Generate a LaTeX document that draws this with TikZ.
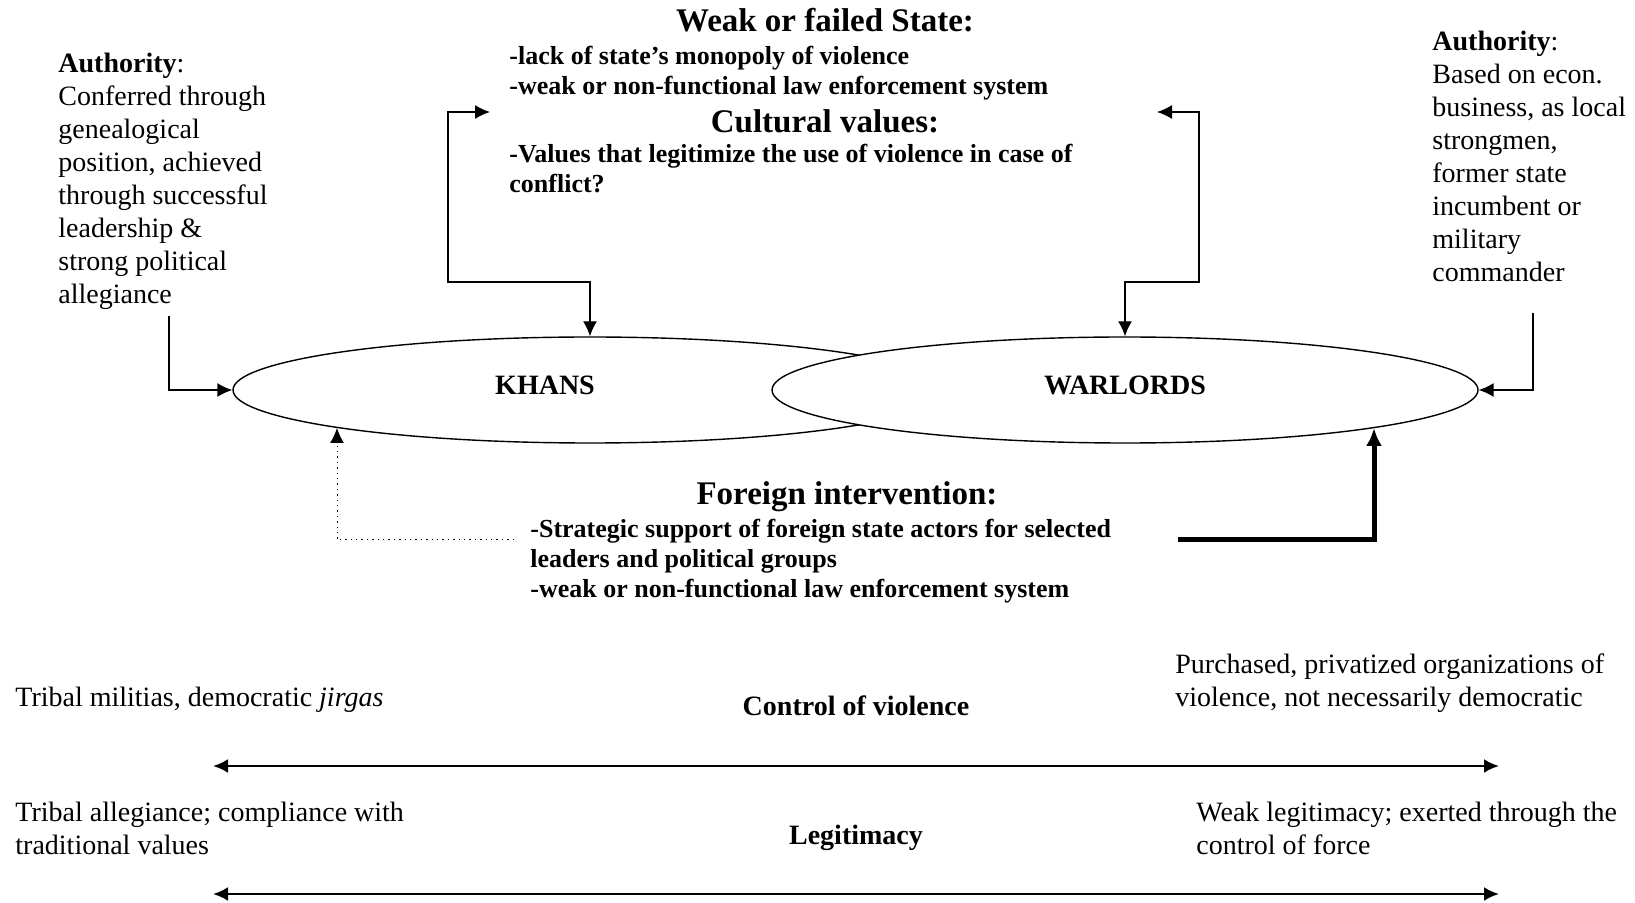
\documentclass[tikz,border=0pt]{standalone}
\usepackage{fontspec}
\setmainfont{Liberation Serif}
\usetikzlibrary{arrows.meta,shapes.geometric,positioning,calc}
\tikzstyle{txt} = [inner sep=0pt, align=left, font=\fontsize{14}{16.5}\selectfont]
\tikzstyle{bul} = [inner sep=0pt, align=left, font=\fontsize{13}{15}\selectfont\bfseries]
\tikzstyle{head} = [inner sep=0pt, font=\fontsize{16.5}{19}\selectfont\bfseries]
\tikzstyle{lbl} = [inner sep=0pt, font=\fontsize{14}{16.5}\selectfont\bfseries]
\tikzstyle{actor} = [ellipse, draw, fill=white,
line width=0.7pt, % same as the links
inner sep=0pt, minimum height=53pt]
\tikzstyle{link} = [->, line width=0.7pt]
\begin{document}
\begin{tikzpicture}[
    x=0.5pt, y=-0.5pt, % one unit is one pixel of the original, y going down
    >={Latex[length=7.5pt,width=7pt]},
  ]
    \useasboundingbox (0,0) rectangle (1635,903);

    % authority on both sides
    \node[txt, anchor=north west] (authL) at (58,53) {\textbf{Authority}:\\Conferred through\\genealogical\\position, achieved\\through successful\\leadership \&\\strong political\\allegiance};
    \node[txt, anchor=north west] (authR) at (1432,31) {\textbf{Authority}:\\Based on econ.\\business, as local\\strongmen,\\former state\\incumbent or\\military\\commander};

    % state and culture
    \node[head, anchor=base]       (stateHead) at (825,32)  {Weak or failed State:};
    \node[bul, anchor=north west]  (stateList) at (509,46)  {-lack of state’s monopoly of violence\\-weak or non-functional law enforcement system};
    \node[head, anchor=base]       (cultHead)  at (825,133) {Cultural values:};
    \node[bul, anchor=north west]  (cultList)  at (509,144) {-Values that legitimize the use of violence in case of\\conflict?};

    % the two actors, warlords on top
    \node[actor, minimum width=357pt, label={[lbl, xshift=-22.5pt, yshift=2.5pt]center:KHANS}] (khans) at (590,390) {};
    \node[actor, minimum width=353pt, label={[lbl, yshift=2.5pt]center:WARLORDS}]             (warlords) at (1125,390) {};

    % foreign intervention
    \node[head, anchor=base]      (foreignHead) at (847,505) {Foreign intervention:};
    \node[bul, anchor=north west] (foreignList) at (530,519) {-Strategic support of foreign state actors for selected\\leaders and political groups\\-weak or non-functional law enforcement system};

    % scales at the bottom
    \node[txt, anchor=base west]  (milL)    at (15,706)   {Tribal militias, democratic \textit{jirgas}};
    \node[lbl, anchor=base]       (ctrlLbl) at (856,716)  {Control of violence};
    \node[txt, anchor=north west] (milR)    at (1175,653) {Purchased, privatized organizations of\\violence, not necessarily democratic};
    \node[txt, anchor=north west] (legL)    at (15,802)   {Tribal allegiance; compliance with\\traditional values};
    \node[lbl, anchor=base]       (legLbl)  at (856,844)  {Legitimacy};
    \node[txt, anchor=north west] (legR)    at (1196,802) {Weak legitimacy; exerted through the\\control of force};

    \coordinate (authLfoot) at (169,316);
    \coordinate (authRfoot) at (1533,313);
    \coordinate (stateL)    at (490,112);
    \coordinate (stateR)    at (1157,112);
    \coordinate (foreignL)  at (514,540);
    \coordinate (foreignR)  at (1178,540);
    \coordinate (khansFoot) at ($(khans.center)+(-253,38)$);
    \coordinate (warlordsFoot) at ($(warlords.center)+(249,38)$);
    \coordinate (ctrlA) at (213,766);
    \coordinate (ctrlB) at (1499,766);
    \coordinate (legA)  at (213,894);
    \coordinate (legB)  at (1499,894);

    \draw[link] (authLfoot) |- (khans.west);
    \draw[link] (authRfoot) |- (warlords.east);

    \draw[link, <->] (stateL) -| (448,282) -| (khans.north);
    \draw[link, <->] (stateR) -| (1199,282) -| (warlords.north);

    \draw[link, dotted, line width=0.5pt] (foreignL) -| (khansFoot);
    \draw[->, line width=2.5pt, >={Latex[length=9pt,width=8pt]}] (foreignR) -| (warlordsFoot);

    \draw[<->, line width=1.2pt] (ctrlA) -- (ctrlB);
    \draw[<->, line width=1.2pt] (legA) -- (legB);
  \end{tikzpicture}
\end{document}
